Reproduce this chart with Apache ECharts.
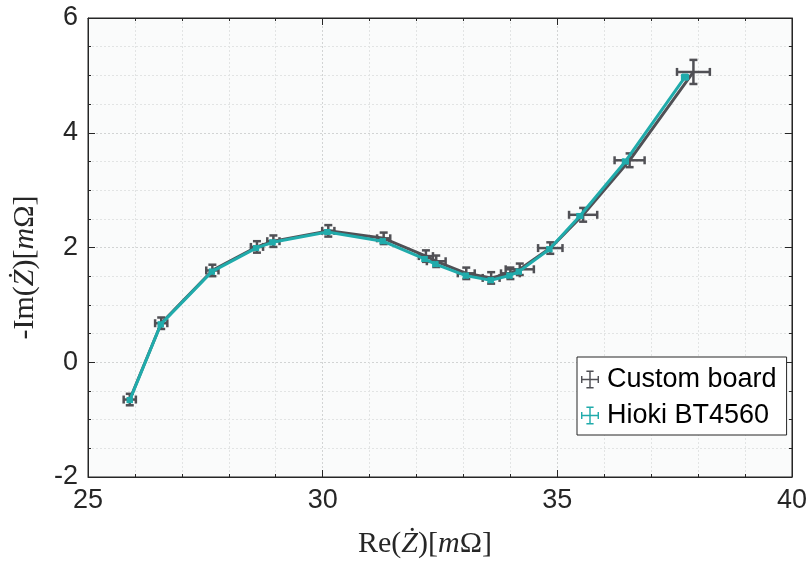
<!DOCTYPE html>
<html>
<head>
<meta charset="utf-8">
<script src="https://cdn.jsdelivr.net/npm/echarts@6/dist/echarts.min.js"></script>
<style>html,body{margin:0;padding:0;background:#fff}#c{width:810px;height:566px}</style>
</head>
<body>
<div id="c"></div>
<script>
// Custom board measurements
const cbRe   = [25.89, 26.56, 27.65, 28.60, 28.95, 30.12, 31.30, 32.20, 32.42, 33.06, 33.59, 34.00, 34.20, 34.85, 35.55, 36.54, 37.90];
const cbIm   = [-0.65, 0.68, 1.60, 2.01, 2.11, 2.29, 2.16, 1.85, 1.76, 1.55, 1.47, 1.55, 1.62, 1.99, 2.57, 3.52, 5.06];
const cbReErr = [0.13, 0.13, 0.13, 0.13, 0.13, 0.13, 0.14, 0.15, 0.2, 0.18, 0.18, 0.2, 0.3, 0.26, 0.3, 0.32, 0.35];
const cbImErr = [0.10, 0.10, 0.10, 0.10, 0.10, 0.10, 0.10, 0.10, 0.10, 0.10, 0.10, 0.10, 0.10, 0.10, 0.12, 0.12, 0.21];
// Hioki BT4560 measurements
const hkRe   = [25.89, 26.55, 27.64, 28.58, 28.93, 30.10, 31.28, 32.17, 32.40, 33.05, 33.58, 33.98, 34.18, 34.83, 35.48, 36.45, 37.72];
const hkIm   = [-0.66, 0.66, 1.58, 1.99, 2.09, 2.27, 2.11, 1.80, 1.71, 1.51, 1.43, 1.51, 1.58, 1.97, 2.55, 3.50, 4.97];
const hkReErr = [0.04, 0.04, 0.04, 0.04, 0.04, 0.04, 0.04, 0.04, 0.04, 0.04, 0.04, 0.04, 0.04, 0.04, 0.05, 0.05, 0.06];
const hkImErr = [0.03, 0.03, 0.03, 0.03, 0.03, 0.03, 0.03, 0.03, 0.03, 0.03, 0.03, 0.03, 0.03, 0.03, 0.03, 0.03, 0.04];
const seriesNames = ['Custom board', 'Hioki BT4560'];
const xTicks = [25, 30, 35, 40];
const yTicks = [-2, 0, 2, 4, 6];

const grayC = '#505055';
const tealC = '#20abab';

function pts(xs, ys) { return xs.map((x, i) => [x, ys[i]]); }
function errData(xs, ys, xe, ye) { return xs.map((x, i) => [x, ys[i], xe[i], ye[i]]); }

function errRender(color, cap, lw) {
  return function (params, api) {
    const x = api.value(0), y = api.value(1), xe = api.value(2), ye = api.value(3);
    const l = api.coord([x - xe, y]), r = api.coord([x + xe, y]);
    const t = api.coord([x, y + ye]), b = api.coord([x, y - ye]);
    const st = { stroke: color, lineWidth: lw };
    const line = (x1, y1, x2, y2) => ({ type: 'line', shape: { x1, y1, x2, y2 }, style: st });
    return {
      type: 'group',
      children: [
        line(l[0], l[1], r[0], r[1]),
        line(t[0], t[1], b[0], b[1]),
        line(l[0], l[1] - cap, l[0], l[1] + cap),
        line(r[0], r[1] - cap, r[0], r[1] + cap),
        line(t[0] - cap, t[1], t[0] + cap, t[1]),
        line(b[0] - cap, b[1], b[0] + cap, b[1])
      ]
    };
  };
}

const iconPath = 'path://M0,9.2L20,9.2L20,10.8L0,10.8Z M9.2,0L10.8,0L10.8,20L9.2,20Z M0,6L1.6,6L1.6,14L0,14Z M18.4,6L20,6L20,14L18.4,14Z M6,0L14,0L14,1.6L6,1.6Z M6,18.4L14,18.4L14,20L6,20Z';

const chart = echarts.init(document.getElementById('c'), null, { renderer: 'canvas' });
const axisFont = { fontFamily: 'Liberation Sans', fontSize: 27, color: '#262626' };
const titleRich = {
  n: { fontFamily: 'Liberation Serif', fontSize: 30, color: '#262626' },
  i: { fontFamily: 'Liberation Serif', fontSize: 30, fontStyle: 'italic', color: '#262626' }
};
chart.setOption({
  animation: false,
  backgroundColor: '#ffffff',
  grid: { left: 88, right: 15, top: 18, bottom: 89, show: true, backgroundColor: '#fafbfb', borderColor: '#262626', borderWidth: 1 },
  legend: {
    data: seriesNames.map((n, i) => ({ name: n, icon: iconPath, itemStyle: { color: i ? tealC : grayC } })),
    orient: 'vertical',
    left: 577, top: 357,
    padding: [9, 10, 6, 4],
    itemWidth: 20, itemHeight: 18, itemGap: 9,
    backgroundColor: '#ffffff', borderColor: '#262626', borderWidth: 1,
    textStyle: { fontFamily: 'Liberation Sans', fontSize: 27, color: '#000', padding: [0, 0, 0, 2] }
  },
  xAxis: [{
    type: 'value', min: 25, max: 40, interval: 5,
    name: '{n|Re(}{i|Ż}{n|)[}{i|m}{n|Ω]}',
    nameLocation: 'middle', nameGap: 52,
    nameTextStyle: { rich: titleRich, padding: [0, 30, 0, 0] },
    axisLine: { show: true, onZero: false, lineStyle: { color: '#262626', width: 1 } },
    axisTick: { show: true, inside: true, length: 7, lineStyle: { color: '#262626' } },
    minorTick: { show: true, splitNumber: 5, length: 3, lineStyle: { color: '#262626' } },
    axisLabel: Object.assign({ margin: 10, formatter: v => xTicks.includes(v) ? String(v) : '' }, axisFont),
    splitLine: { show: true, lineStyle: { color: '#d2d4d4', type: [2, 2], width: 1 } },
    minorSplitLine: { show: true, lineStyle: { color: '#e2e4e4', type: [2, 2], width: 1 } }
  }, {
    type: 'value', min: 25, max: 40, interval: 5, position: 'top',
    axisLine: { show: true, onZero: false, lineStyle: { color: '#262626' } },
    axisTick: { show: true, inside: true, length: 7, lineStyle: { color: '#262626' } },
    minorTick: { show: true, splitNumber: 5, length: 3, lineStyle: { color: '#262626' } },
    axisLabel: { show: false }, splitLine: { show: false }
  }],
  yAxis: [{
    type: 'value', min: -2, max: 6, interval: 2,
    name: '{n|-Im(}{i|Ż}{n|)[}{i|m}{n|Ω]}',
    nameLocation: 'middle', nameGap: 48, nameRotate: 90,
    nameTextStyle: { rich: titleRich, padding: [0, 40, 0, 0] },
    axisLine: { show: true, onZero: false, lineStyle: { color: '#262626', width: 1 } },
    axisTick: { show: true, inside: true, length: 7, lineStyle: { color: '#262626' } },
    minorTick: { show: true, splitNumber: 4, length: 3, lineStyle: { color: '#262626' } },
    axisLabel: Object.assign({ margin: 10, formatter: v => yTicks.includes(v) ? String(v) : '' }, axisFont),
    splitLine: { show: true, lineStyle: { color: '#d2d4d4', type: [2, 2], width: 1 } },
    minorSplitLine: { show: true, lineStyle: { color: '#e2e4e4', type: [2, 2], width: 1 } }
  }, {
    type: 'value', min: -2, max: 6, interval: 2, position: 'right',
    axisLine: { show: true, onZero: false, lineStyle: { color: '#262626' } },
    axisTick: { show: true, inside: true, length: 7, lineStyle: { color: '#262626' } },
    minorTick: { show: true, splitNumber: 4, length: 3, lineStyle: { color: '#262626' } },
    axisLabel: { show: false }, splitLine: { show: false }
  }],
  series: [
    {
      name: seriesNames[0], type: 'line', data: pts(cbRe, cbIm), showSymbol: false, symbol: 'none',
      lineStyle: { color: grayC, width: 3 }, itemStyle: { color: grayC }, z: 2
    },
    {
      name: seriesNames[0], type: 'custom', data: errData(cbRe, cbIm, cbReErr, cbImErr),
      renderItem: errRender(grayC, 4, 2.5), z: 3, silent: true
    },
    {
      name: seriesNames[1], type: 'line', data: pts(hkRe, hkIm), showSymbol: false, symbol: 'none',
      lineStyle: { color: tealC, width: 3 }, itemStyle: { color: tealC }, z: 4
    },
    {
      name: seriesNames[1], type: 'custom', data: errData(hkRe, hkIm, hkReErr, hkImErr),
      renderItem: errRender(tealC, 3, 2.5), z: 5, silent: true
    }
  ]
});
</script>
</body>
</html>
